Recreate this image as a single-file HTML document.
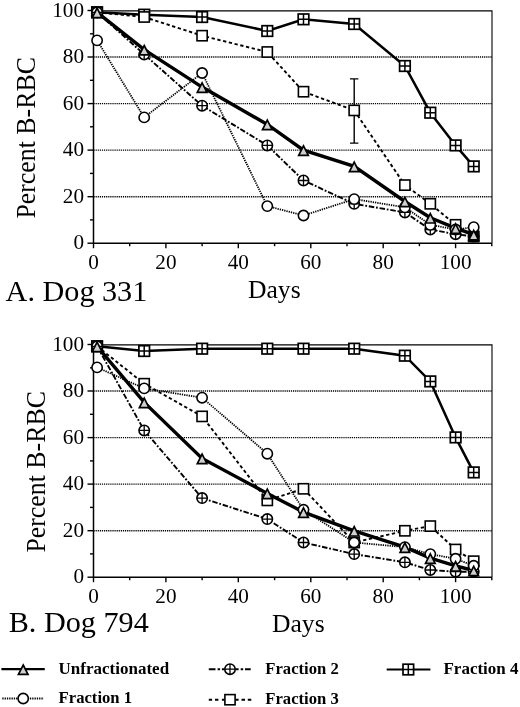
<!DOCTYPE html><html><head><meta charset="utf-8"><title>Figure</title><style>html,body{margin:0;padding:0;background:#fff}svg{display:block;will-change:transform}svg text{font-family:"Liberation Serif",serif}</style></head><body><svg width="520" height="707" viewBox="0 0 520 707" fill="#000"><rect width="520" height="707" fill="#fff"/><line x1="93.5" x2="492.0" y1="196.7" y2="196.7" stroke="#000" stroke-width="1.35" stroke-dasharray="1.2 0.9"/><line x1="93.5" x2="492.0" y1="150.1" y2="150.1" stroke="#000" stroke-width="1.35" stroke-dasharray="1.2 0.9"/><line x1="93.5" x2="492.0" y1="103.6" y2="103.6" stroke="#000" stroke-width="1.35" stroke-dasharray="1.2 0.9"/><line x1="93.5" x2="492.0" y1="57.0" y2="57.0" stroke="#000" stroke-width="1.35" stroke-dasharray="1.2 0.9"/><path d="M93.5 10.9H492.0V243.2" stroke="#000" stroke-width="1.1" fill="none"/><path d="M93.5 10.5V243.2H492.0" stroke="#000" stroke-width="1.5" fill="none"/><line x1="87.5" x2="93.5" y1="243.2" y2="243.2" stroke="#000" stroke-width="1.4"/><line x1="90.0" x2="93.5" y1="219.9" y2="219.9" stroke="#000" stroke-width="1.4"/><line x1="87.5" x2="93.5" y1="196.7" y2="196.7" stroke="#000" stroke-width="1.4"/><line x1="90.0" x2="93.5" y1="173.4" y2="173.4" stroke="#000" stroke-width="1.4"/><line x1="87.5" x2="93.5" y1="150.1" y2="150.1" stroke="#000" stroke-width="1.4"/><line x1="90.0" x2="93.5" y1="126.8" y2="126.8" stroke="#000" stroke-width="1.4"/><line x1="87.5" x2="93.5" y1="103.6" y2="103.6" stroke="#000" stroke-width="1.4"/><line x1="90.0" x2="93.5" y1="80.3" y2="80.3" stroke="#000" stroke-width="1.4"/><line x1="87.5" x2="93.5" y1="57.0" y2="57.0" stroke="#000" stroke-width="1.4"/><line x1="90.0" x2="93.5" y1="33.8" y2="33.8" stroke="#000" stroke-width="1.4"/><line x1="87.5" x2="93.5" y1="10.5" y2="10.5" stroke="#000" stroke-width="1.4"/><line x1="93.5" x2="93.5" y1="243.2" y2="248.2" stroke="#000" stroke-width="1.4"/><line x1="129.7" x2="129.7" y1="243.2" y2="246.2" stroke="#000" stroke-width="1.4"/><line x1="165.9" x2="165.9" y1="243.2" y2="248.2" stroke="#000" stroke-width="1.4"/><line x1="202.1" x2="202.1" y1="243.2" y2="246.2" stroke="#000" stroke-width="1.4"/><line x1="238.3" x2="238.3" y1="243.2" y2="248.2" stroke="#000" stroke-width="1.4"/><line x1="274.6" x2="274.6" y1="243.2" y2="246.2" stroke="#000" stroke-width="1.4"/><line x1="310.8" x2="310.8" y1="243.2" y2="248.2" stroke="#000" stroke-width="1.4"/><line x1="347.0" x2="347.0" y1="243.2" y2="246.2" stroke="#000" stroke-width="1.4"/><line x1="383.2" x2="383.2" y1="243.2" y2="248.2" stroke="#000" stroke-width="1.4"/><line x1="419.4" x2="419.4" y1="243.2" y2="246.2" stroke="#000" stroke-width="1.4"/><line x1="455.6" x2="455.6" y1="243.2" y2="248.2" stroke="#000" stroke-width="1.4"/><line x1="491.8" x2="491.8" y1="243.2" y2="246.2" stroke="#000" stroke-width="1.4"/><text x="84.0" y="249.4" text-anchor="end" font-size="21.2">0</text><text x="84.0" y="202.9" text-anchor="end" font-size="21.2">20</text><text x="84.0" y="156.3" text-anchor="end" font-size="21.2">40</text><text x="84.0" y="109.8" text-anchor="end" font-size="21.2">60</text><text x="84.0" y="63.2" text-anchor="end" font-size="21.2">80</text><text x="84.0" y="16.7" text-anchor="end" font-size="21.2">100</text><text x="93.5" y="269.2" text-anchor="middle" font-size="21.2">0</text><text x="165.9" y="269.2" text-anchor="middle" font-size="21.2">20</text><text x="238.3" y="269.2" text-anchor="middle" font-size="21.2">40</text><text x="310.8" y="269.2" text-anchor="middle" font-size="21.2">60</text><text x="383.2" y="269.2" text-anchor="middle" font-size="21.2">80</text><text x="455.6" y="269.2" text-anchor="middle" font-size="21.2">100</text><polyline points="97.1,40.4 144.2,117.4 202.1,73.0 267.3,206.1 303.5,215.5 354.2,199.1 404.9,207.3 430.3,224.8 455.6,229.5 473.7,227.2" fill="none" stroke="#000" stroke-width="1.8" stroke-dasharray="1.3 1"/><polyline points="97.1,12.3 144.2,54.4 202.1,105.7 267.3,145.4 303.5,180.5 354.2,203.8 404.9,212.4 430.3,229.5 455.6,234.2 473.7,236.5" fill="none" stroke="#000" stroke-width="1.9" stroke-dasharray="5.5 1.8 1.8 1.8"/><polyline points="97.1,12.3 144.2,17.0 202.1,35.7 267.3,52.0 303.5,91.7 354.2,110.4 404.9,185.1 430.3,203.8 455.6,224.8 473.7,236.5" fill="none" stroke="#000" stroke-width="1.9" stroke-dasharray="3.3 2.6"/><polyline points="97.1,12.3 144.2,14.7 202.1,17.0 267.3,31.0 303.5,19.3 354.2,24.0 404.9,66.0 430.3,112.7 455.6,145.4 473.7,166.4" fill="none" stroke="#000" stroke-width="2.5"/><polyline points="97.1,12.3 144.2,49.7 202.1,87.1 267.3,124.4 303.5,150.1 354.2,166.4 404.9,201.5 430.3,217.8 455.6,228.1 473.7,234.6" fill="none" stroke="#000" stroke-width="3.4"/><path d="M354.2 143.1V78.9M350.0 143.1h8.4M350.0 78.9h8.4" stroke="#000" stroke-width="1.4" fill="none"/><rect x="91.8" y="7.0" width="10.6" height="10.6" fill="#fff" stroke="#000" stroke-width="1.7"/><path d="M91.8 12.3H102.4M97.1 7.0V17.6" stroke="#000" stroke-width="1.5" fill="none"/><rect x="138.9" y="9.4" width="10.6" height="10.6" fill="#fff" stroke="#000" stroke-width="1.7"/><path d="M138.9 14.7H149.5M144.2 9.4V20.0" stroke="#000" stroke-width="1.5" fill="none"/><rect x="196.8" y="11.7" width="10.6" height="10.6" fill="#fff" stroke="#000" stroke-width="1.7"/><path d="M196.8 17.0H207.4M202.1 11.7V22.3" stroke="#000" stroke-width="1.5" fill="none"/><rect x="262.0" y="25.7" width="10.6" height="10.6" fill="#fff" stroke="#000" stroke-width="1.7"/><path d="M262.0 31.0H272.6M267.3 25.7V36.3" stroke="#000" stroke-width="1.5" fill="none"/><rect x="298.2" y="14.0" width="10.6" height="10.6" fill="#fff" stroke="#000" stroke-width="1.7"/><path d="M298.2 19.3H308.8M303.5 14.0V24.6" stroke="#000" stroke-width="1.5" fill="none"/><rect x="348.9" y="18.7" width="10.6" height="10.6" fill="#fff" stroke="#000" stroke-width="1.7"/><path d="M348.9 24.0H359.5M354.2 18.7V29.3" stroke="#000" stroke-width="1.5" fill="none"/><rect x="399.6" y="60.7" width="10.6" height="10.6" fill="#fff" stroke="#000" stroke-width="1.7"/><path d="M399.6 66.0H410.2M404.9 60.7V71.3" stroke="#000" stroke-width="1.5" fill="none"/><rect x="425.0" y="107.4" width="10.6" height="10.6" fill="#fff" stroke="#000" stroke-width="1.7"/><path d="M425.0 112.7H435.6M430.3 107.4V118.0" stroke="#000" stroke-width="1.5" fill="none"/><rect x="450.3" y="140.1" width="10.6" height="10.6" fill="#fff" stroke="#000" stroke-width="1.7"/><path d="M450.3 145.4H460.9M455.6 140.1V150.7" stroke="#000" stroke-width="1.5" fill="none"/><rect x="468.4" y="161.1" width="10.6" height="10.6" fill="#fff" stroke="#000" stroke-width="1.7"/><path d="M468.4 166.4H479.0M473.7 161.1V171.7" stroke="#000" stroke-width="1.5" fill="none"/><rect x="92.0" y="7.2" width="10.2" height="10.2" fill="#fff" stroke="#000" stroke-width="1.6"/><rect x="139.1" y="11.9" width="10.2" height="10.2" fill="#fff" stroke="#000" stroke-width="1.6"/><rect x="197.0" y="30.6" width="10.2" height="10.2" fill="#fff" stroke="#000" stroke-width="1.6"/><rect x="262.2" y="46.9" width="10.2" height="10.2" fill="#fff" stroke="#000" stroke-width="1.6"/><rect x="298.4" y="86.6" width="10.2" height="10.2" fill="#fff" stroke="#000" stroke-width="1.6"/><rect x="349.1" y="105.3" width="10.2" height="10.2" fill="#fff" stroke="#000" stroke-width="1.6"/><rect x="399.8" y="180.0" width="10.2" height="10.2" fill="#fff" stroke="#000" stroke-width="1.6"/><rect x="425.2" y="198.7" width="10.2" height="10.2" fill="#fff" stroke="#000" stroke-width="1.6"/><rect x="450.5" y="219.7" width="10.2" height="10.2" fill="#fff" stroke="#000" stroke-width="1.6"/><rect x="468.6" y="231.4" width="10.2" height="10.2" fill="#fff" stroke="#000" stroke-width="1.6"/><circle cx="97.1" cy="12.3" r="5.2" fill="#fff" stroke="#000" stroke-width="1.6"/><path d="M91.9 12.3H102.3M97.1 7.1V17.5" stroke="#000" stroke-width="1.3" fill="none"/><circle cx="144.2" cy="54.4" r="5.2" fill="#fff" stroke="#000" stroke-width="1.6"/><path d="M139.0 54.4H149.4M144.2 49.2V59.6" stroke="#000" stroke-width="1.3" fill="none"/><circle cx="202.1" cy="105.7" r="5.2" fill="#fff" stroke="#000" stroke-width="1.6"/><path d="M196.9 105.7H207.3M202.1 100.5V110.9" stroke="#000" stroke-width="1.3" fill="none"/><circle cx="267.3" cy="145.4" r="5.2" fill="#fff" stroke="#000" stroke-width="1.6"/><path d="M262.1 145.4H272.5M267.3 140.2V150.6" stroke="#000" stroke-width="1.3" fill="none"/><circle cx="303.5" cy="180.5" r="5.2" fill="#fff" stroke="#000" stroke-width="1.6"/><path d="M298.3 180.5H308.7M303.5 175.3V185.7" stroke="#000" stroke-width="1.3" fill="none"/><circle cx="354.2" cy="203.8" r="5.2" fill="#fff" stroke="#000" stroke-width="1.6"/><path d="M349.0 203.8H359.4M354.2 198.6V209.0" stroke="#000" stroke-width="1.3" fill="none"/><circle cx="404.9" cy="212.4" r="5.2" fill="#fff" stroke="#000" stroke-width="1.6"/><path d="M399.7 212.4H410.1M404.9 207.2V217.6" stroke="#000" stroke-width="1.3" fill="none"/><circle cx="430.3" cy="229.5" r="5.2" fill="#fff" stroke="#000" stroke-width="1.6"/><path d="M425.1 229.5H435.5M430.3 224.3V234.7" stroke="#000" stroke-width="1.3" fill="none"/><circle cx="455.6" cy="234.2" r="5.2" fill="#fff" stroke="#000" stroke-width="1.6"/><path d="M450.4 234.2H460.8M455.6 229.0V239.4" stroke="#000" stroke-width="1.3" fill="none"/><circle cx="473.7" cy="236.5" r="5.2" fill="#fff" stroke="#000" stroke-width="1.6"/><path d="M468.5 236.5H478.9M473.7 231.3V241.7" stroke="#000" stroke-width="1.3" fill="none"/><rect x="468.1" y="230.9" width="11.2" height="11.2" fill="#000"/><circle cx="97.1" cy="40.4" r="5.15" fill="#fff" stroke="#000" stroke-width="1.6"/><circle cx="144.2" cy="117.4" r="5.15" fill="#fff" stroke="#000" stroke-width="1.6"/><circle cx="202.1" cy="73.0" r="5.15" fill="#fff" stroke="#000" stroke-width="1.6"/><circle cx="267.3" cy="206.1" r="5.15" fill="#fff" stroke="#000" stroke-width="1.6"/><circle cx="303.5" cy="215.5" r="5.15" fill="#fff" stroke="#000" stroke-width="1.6"/><circle cx="354.2" cy="199.1" r="5.15" fill="#fff" stroke="#000" stroke-width="1.6"/><circle cx="404.9" cy="207.3" r="5.15" fill="#fff" stroke="#000" stroke-width="1.6"/><circle cx="430.3" cy="224.8" r="5.15" fill="#fff" stroke="#000" stroke-width="1.6"/><circle cx="455.6" cy="229.5" r="5.15" fill="#fff" stroke="#000" stroke-width="1.6"/><circle cx="473.7" cy="227.2" r="5.15" fill="#fff" stroke="#000" stroke-width="1.6"/><path d="M97.1 8.1L101.9 17.5H92.3Z" fill="#cfcfcf" stroke="#000" stroke-width="1.7" stroke-linejoin="miter"/><path d="M144.2 45.5L149.0 54.9H139.4Z" fill="#cfcfcf" stroke="#000" stroke-width="1.7" stroke-linejoin="miter"/><path d="M202.1 82.9L206.9 92.3H197.3Z" fill="#cfcfcf" stroke="#000" stroke-width="1.7" stroke-linejoin="miter"/><path d="M267.3 120.2L272.1 129.6H262.5Z" fill="#cfcfcf" stroke="#000" stroke-width="1.7" stroke-linejoin="miter"/><path d="M303.5 145.9L308.3 155.3H298.7Z" fill="#cfcfcf" stroke="#000" stroke-width="1.7" stroke-linejoin="miter"/><path d="M354.2 162.2L359.0 171.6H349.4Z" fill="#cfcfcf" stroke="#000" stroke-width="1.7" stroke-linejoin="miter"/><path d="M404.9 197.3L409.7 206.7H400.1Z" fill="#cfcfcf" stroke="#000" stroke-width="1.7" stroke-linejoin="miter"/><path d="M430.3 213.6L435.1 223.0H425.5Z" fill="#cfcfcf" stroke="#000" stroke-width="1.7" stroke-linejoin="miter"/><path d="M455.6 223.9L460.4 233.3H450.8Z" fill="#cfcfcf" stroke="#000" stroke-width="1.7" stroke-linejoin="miter"/><path d="M473.7 230.4L478.5 239.8H468.9Z" fill="#cfcfcf" stroke="#000" stroke-width="1.7" stroke-linejoin="miter"/><text transform="translate(34.6,218.6) rotate(-90)" textLength="161.5" lengthAdjust="spacingAndGlyphs" font-size="27">Percent B-RBC</text><line x1="93.5" x2="492.0" y1="530.7" y2="530.7" stroke="#000" stroke-width="1.35" stroke-dasharray="1.2 0.9"/><line x1="93.5" x2="492.0" y1="484.1" y2="484.1" stroke="#000" stroke-width="1.35" stroke-dasharray="1.2 0.9"/><line x1="93.5" x2="492.0" y1="437.6" y2="437.6" stroke="#000" stroke-width="1.35" stroke-dasharray="1.2 0.9"/><line x1="93.5" x2="492.0" y1="391.0" y2="391.0" stroke="#000" stroke-width="1.35" stroke-dasharray="1.2 0.9"/><path d="M93.5 344.9H492.0V577.2" stroke="#000" stroke-width="1.1" fill="none"/><path d="M93.5 344.5V577.2H492.0" stroke="#000" stroke-width="1.5" fill="none"/><line x1="87.5" x2="93.5" y1="577.2" y2="577.2" stroke="#000" stroke-width="1.4"/><line x1="90.0" x2="93.5" y1="553.9" y2="553.9" stroke="#000" stroke-width="1.4"/><line x1="87.5" x2="93.5" y1="530.7" y2="530.7" stroke="#000" stroke-width="1.4"/><line x1="90.0" x2="93.5" y1="507.4" y2="507.4" stroke="#000" stroke-width="1.4"/><line x1="87.5" x2="93.5" y1="484.1" y2="484.1" stroke="#000" stroke-width="1.4"/><line x1="90.0" x2="93.5" y1="460.9" y2="460.9" stroke="#000" stroke-width="1.4"/><line x1="87.5" x2="93.5" y1="437.6" y2="437.6" stroke="#000" stroke-width="1.4"/><line x1="90.0" x2="93.5" y1="414.3" y2="414.3" stroke="#000" stroke-width="1.4"/><line x1="87.5" x2="93.5" y1="391.0" y2="391.0" stroke="#000" stroke-width="1.4"/><line x1="90.0" x2="93.5" y1="367.8" y2="367.8" stroke="#000" stroke-width="1.4"/><line x1="87.5" x2="93.5" y1="344.5" y2="344.5" stroke="#000" stroke-width="1.4"/><line x1="93.5" x2="93.5" y1="577.2" y2="582.2" stroke="#000" stroke-width="1.4"/><line x1="129.7" x2="129.7" y1="577.2" y2="580.2" stroke="#000" stroke-width="1.4"/><line x1="165.9" x2="165.9" y1="577.2" y2="582.2" stroke="#000" stroke-width="1.4"/><line x1="202.1" x2="202.1" y1="577.2" y2="580.2" stroke="#000" stroke-width="1.4"/><line x1="238.3" x2="238.3" y1="577.2" y2="582.2" stroke="#000" stroke-width="1.4"/><line x1="274.6" x2="274.6" y1="577.2" y2="580.2" stroke="#000" stroke-width="1.4"/><line x1="310.8" x2="310.8" y1="577.2" y2="582.2" stroke="#000" stroke-width="1.4"/><line x1="347.0" x2="347.0" y1="577.2" y2="580.2" stroke="#000" stroke-width="1.4"/><line x1="383.2" x2="383.2" y1="577.2" y2="582.2" stroke="#000" stroke-width="1.4"/><line x1="419.4" x2="419.4" y1="577.2" y2="580.2" stroke="#000" stroke-width="1.4"/><line x1="455.6" x2="455.6" y1="577.2" y2="582.2" stroke="#000" stroke-width="1.4"/><line x1="491.8" x2="491.8" y1="577.2" y2="580.2" stroke="#000" stroke-width="1.4"/><text x="84.0" y="583.4" text-anchor="end" font-size="21.2">0</text><text x="84.0" y="536.9" text-anchor="end" font-size="21.2">20</text><text x="84.0" y="490.3" text-anchor="end" font-size="21.2">40</text><text x="84.0" y="443.8" text-anchor="end" font-size="21.2">60</text><text x="84.0" y="397.2" text-anchor="end" font-size="21.2">80</text><text x="84.0" y="350.7" text-anchor="end" font-size="21.2">100</text><text x="93.5" y="603.2" text-anchor="middle" font-size="21.2">0</text><text x="165.9" y="603.2" text-anchor="middle" font-size="21.2">20</text><text x="238.3" y="603.2" text-anchor="middle" font-size="21.2">40</text><text x="310.8" y="603.2" text-anchor="middle" font-size="21.2">60</text><text x="383.2" y="603.2" text-anchor="middle" font-size="21.2">80</text><text x="455.6" y="603.2" text-anchor="middle" font-size="21.2">100</text><polyline points="97.1,367.4 144.2,388.4 202.1,397.7 267.3,453.7 303.5,509.8 354.2,542.5 404.9,547.1 430.3,554.1 455.6,558.8 473.7,565.8" fill="none" stroke="#000" stroke-width="1.8" stroke-dasharray="1.3 1"/><polyline points="97.1,346.3 144.2,430.4 202.1,498.1 267.3,519.1 303.5,542.5 354.2,554.1 404.9,562.3 430.3,570.0 455.6,571.7 473.7,571.7" fill="none" stroke="#000" stroke-width="1.9" stroke-dasharray="5.5 1.8 1.8 1.8"/><polyline points="97.1,346.3 144.2,383.7 202.1,416.4 267.3,500.4 303.5,488.8 354.2,542.5 404.9,530.8 430.3,526.1 455.6,549.5 473.7,561.2" fill="none" stroke="#000" stroke-width="1.9" stroke-dasharray="3.3 2.6"/><polyline points="97.1,346.3 144.2,351.0 202.1,348.7 267.3,348.7 303.5,348.7 354.2,348.7 404.9,355.7 430.3,381.4 455.6,437.4 473.7,472.4" fill="none" stroke="#000" stroke-width="2.5"/><polyline points="97.1,346.3 144.2,402.4 202.1,458.4 267.3,493.4 303.5,512.1 354.2,530.8 404.9,547.1 430.3,558.1 455.6,565.8 473.7,570.5" fill="none" stroke="#000" stroke-width="3.4"/><rect x="91.8" y="341.0" width="10.6" height="10.6" fill="#fff" stroke="#000" stroke-width="1.7"/><path d="M91.8 346.3H102.4M97.1 341.0V351.6" stroke="#000" stroke-width="1.5" fill="none"/><rect x="138.9" y="345.7" width="10.6" height="10.6" fill="#fff" stroke="#000" stroke-width="1.7"/><path d="M138.9 351.0H149.5M144.2 345.7V356.3" stroke="#000" stroke-width="1.5" fill="none"/><rect x="196.8" y="343.4" width="10.6" height="10.6" fill="#fff" stroke="#000" stroke-width="1.7"/><path d="M196.8 348.7H207.4M202.1 343.4V354.0" stroke="#000" stroke-width="1.5" fill="none"/><rect x="262.0" y="343.4" width="10.6" height="10.6" fill="#fff" stroke="#000" stroke-width="1.7"/><path d="M262.0 348.7H272.6M267.3 343.4V354.0" stroke="#000" stroke-width="1.5" fill="none"/><rect x="298.2" y="343.4" width="10.6" height="10.6" fill="#fff" stroke="#000" stroke-width="1.7"/><path d="M298.2 348.7H308.8M303.5 343.4V354.0" stroke="#000" stroke-width="1.5" fill="none"/><rect x="348.9" y="343.4" width="10.6" height="10.6" fill="#fff" stroke="#000" stroke-width="1.7"/><path d="M348.9 348.7H359.5M354.2 343.4V354.0" stroke="#000" stroke-width="1.5" fill="none"/><rect x="399.6" y="350.4" width="10.6" height="10.6" fill="#fff" stroke="#000" stroke-width="1.7"/><path d="M399.6 355.7H410.2M404.9 350.4V361.0" stroke="#000" stroke-width="1.5" fill="none"/><rect x="425.0" y="376.1" width="10.6" height="10.6" fill="#fff" stroke="#000" stroke-width="1.7"/><path d="M425.0 381.4H435.6M430.3 376.1V386.7" stroke="#000" stroke-width="1.5" fill="none"/><rect x="450.3" y="432.1" width="10.6" height="10.6" fill="#fff" stroke="#000" stroke-width="1.7"/><path d="M450.3 437.4H460.9M455.6 432.1V442.7" stroke="#000" stroke-width="1.5" fill="none"/><rect x="468.4" y="467.1" width="10.6" height="10.6" fill="#fff" stroke="#000" stroke-width="1.7"/><path d="M468.4 472.4H479.0M473.7 467.1V477.7" stroke="#000" stroke-width="1.5" fill="none"/><rect x="92.0" y="341.2" width="10.2" height="10.2" fill="#fff" stroke="#000" stroke-width="1.6"/><rect x="139.1" y="378.6" width="10.2" height="10.2" fill="#fff" stroke="#000" stroke-width="1.6"/><rect x="197.0" y="411.3" width="10.2" height="10.2" fill="#fff" stroke="#000" stroke-width="1.6"/><rect x="262.2" y="495.3" width="10.2" height="10.2" fill="#fff" stroke="#000" stroke-width="1.6"/><rect x="298.4" y="483.7" width="10.2" height="10.2" fill="#fff" stroke="#000" stroke-width="1.6"/><rect x="349.1" y="537.4" width="10.2" height="10.2" fill="#fff" stroke="#000" stroke-width="1.6"/><rect x="399.8" y="525.7" width="10.2" height="10.2" fill="#fff" stroke="#000" stroke-width="1.6"/><rect x="425.2" y="521.0" width="10.2" height="10.2" fill="#fff" stroke="#000" stroke-width="1.6"/><rect x="450.5" y="544.4" width="10.2" height="10.2" fill="#fff" stroke="#000" stroke-width="1.6"/><rect x="468.6" y="556.1" width="10.2" height="10.2" fill="#fff" stroke="#000" stroke-width="1.6"/><circle cx="97.1" cy="346.3" r="5.2" fill="#fff" stroke="#000" stroke-width="1.6"/><path d="M91.9 346.3H102.3M97.1 341.1V351.5" stroke="#000" stroke-width="1.3" fill="none"/><circle cx="144.2" cy="430.4" r="5.2" fill="#fff" stroke="#000" stroke-width="1.6"/><path d="M139.0 430.4H149.4M144.2 425.2V435.6" stroke="#000" stroke-width="1.3" fill="none"/><circle cx="202.1" cy="498.1" r="5.2" fill="#fff" stroke="#000" stroke-width="1.6"/><path d="M196.9 498.1H207.3M202.1 492.9V503.3" stroke="#000" stroke-width="1.3" fill="none"/><circle cx="267.3" cy="519.1" r="5.2" fill="#fff" stroke="#000" stroke-width="1.6"/><path d="M262.1 519.1H272.5M267.3 513.9V524.3" stroke="#000" stroke-width="1.3" fill="none"/><circle cx="303.5" cy="542.5" r="5.2" fill="#fff" stroke="#000" stroke-width="1.6"/><path d="M298.3 542.5H308.7M303.5 537.3V547.7" stroke="#000" stroke-width="1.3" fill="none"/><circle cx="354.2" cy="554.1" r="5.2" fill="#fff" stroke="#000" stroke-width="1.6"/><path d="M349.0 554.1H359.4M354.2 548.9V559.4" stroke="#000" stroke-width="1.3" fill="none"/><circle cx="404.9" cy="562.3" r="5.2" fill="#fff" stroke="#000" stroke-width="1.6"/><path d="M399.7 562.3H410.1M404.9 557.1V567.5" stroke="#000" stroke-width="1.3" fill="none"/><circle cx="430.3" cy="570.0" r="5.2" fill="#fff" stroke="#000" stroke-width="1.6"/><path d="M425.1 570.0H435.5M430.3 564.8V575.2" stroke="#000" stroke-width="1.3" fill="none"/><circle cx="455.6" cy="571.7" r="5.2" fill="#fff" stroke="#000" stroke-width="1.6"/><path d="M450.4 571.7H460.8M455.6 566.5V576.9" stroke="#000" stroke-width="1.3" fill="none"/><circle cx="473.7" cy="571.7" r="5.2" fill="#fff" stroke="#000" stroke-width="1.6"/><path d="M468.5 571.7H478.9M473.7 566.5V576.9" stroke="#000" stroke-width="1.3" fill="none"/><circle cx="97.1" cy="367.4" r="5.15" fill="#fff" stroke="#000" stroke-width="1.6"/><circle cx="144.2" cy="388.4" r="5.15" fill="#fff" stroke="#000" stroke-width="1.6"/><circle cx="202.1" cy="397.7" r="5.15" fill="#fff" stroke="#000" stroke-width="1.6"/><circle cx="267.3" cy="453.7" r="5.15" fill="#fff" stroke="#000" stroke-width="1.6"/><circle cx="303.5" cy="509.8" r="5.15" fill="#fff" stroke="#000" stroke-width="1.6"/><circle cx="354.2" cy="542.5" r="5.15" fill="#fff" stroke="#000" stroke-width="1.6"/><circle cx="404.9" cy="547.1" r="5.15" fill="#fff" stroke="#000" stroke-width="1.6"/><circle cx="430.3" cy="554.1" r="5.15" fill="#fff" stroke="#000" stroke-width="1.6"/><circle cx="455.6" cy="558.8" r="5.15" fill="#fff" stroke="#000" stroke-width="1.6"/><circle cx="473.7" cy="565.8" r="5.15" fill="#fff" stroke="#000" stroke-width="1.6"/><path d="M97.1 342.1L101.9 351.5H92.3Z" fill="#cfcfcf" stroke="#000" stroke-width="1.7" stroke-linejoin="miter"/><path d="M144.2 398.2L149.0 407.6H139.4Z" fill="#cfcfcf" stroke="#000" stroke-width="1.7" stroke-linejoin="miter"/><path d="M202.1 454.2L206.9 463.6H197.3Z" fill="#cfcfcf" stroke="#000" stroke-width="1.7" stroke-linejoin="miter"/><path d="M267.3 489.2L272.1 498.6H262.5Z" fill="#cfcfcf" stroke="#000" stroke-width="1.7" stroke-linejoin="miter"/><path d="M303.5 507.9L308.3 517.3H298.7Z" fill="#cfcfcf" stroke="#000" stroke-width="1.7" stroke-linejoin="miter"/><path d="M354.2 526.6L359.0 536.0H349.4Z" fill="#cfcfcf" stroke="#000" stroke-width="1.7" stroke-linejoin="miter"/><path d="M404.9 542.9L409.7 552.3H400.1Z" fill="#cfcfcf" stroke="#000" stroke-width="1.7" stroke-linejoin="miter"/><path d="M430.3 553.9L435.1 563.3H425.5Z" fill="#cfcfcf" stroke="#000" stroke-width="1.7" stroke-linejoin="miter"/><path d="M455.6 561.6L460.4 571.0H450.8Z" fill="#cfcfcf" stroke="#000" stroke-width="1.7" stroke-linejoin="miter"/><path d="M473.7 566.3L478.5 575.7H468.9Z" fill="#cfcfcf" stroke="#000" stroke-width="1.7" stroke-linejoin="miter"/><text transform="translate(45,552.6) rotate(-90)" textLength="161.5" lengthAdjust="spacingAndGlyphs" font-size="27">Percent B-RBC</text><text x="5.6" y="300.8" font-size="30.2">A. Dog 331</text><text x="8.7" y="632.2" font-size="30.2">B. Dog 794</text><text x="248" y="297.5" font-size="25.6">Days</text><text x="272" y="632" font-size="25.6">Days</text><line x1="1.4" x2="44.8" y1="669.2" y2="669.2" stroke="#000" stroke-width="2.2"/><path d="M23.2 665.0L28.0 674.4H18.4Z" fill="#cfcfcf" stroke="#000" stroke-width="1.7" stroke-linejoin="miter"/><text x="58.6" y="674.3" font-size="16.8" font-weight="bold" textLength="110.5" lengthAdjust="spacingAndGlyphs">Unfractionated</text><line x1="2.3" x2="43.8" y1="698.5" y2="698.5" stroke="#000" stroke-width="1.8" stroke-dasharray="1.3 1"/><circle cx="23.2" cy="698.5" r="5.15" fill="#fff" stroke="#000" stroke-width="1.6"/><text x="58.6" y="702.7" font-size="16.8" font-weight="bold" textLength="73.5" lengthAdjust="spacingAndGlyphs">Fraction 1</text><path d="M208.8 669.2H215.5M217.6 669.2H220.1M221.9 669.2H224.5M235.7 669.2H238.6M240.7 669.2H243.2M245 669.2H250.7" stroke="#000" stroke-width="1.9" fill="none"/><circle cx="230.0" cy="669.2" r="5.2" fill="#fff" stroke="#000" stroke-width="1.6"/><path d="M224.8 669.2H235.2M230.0 664.0V674.4" stroke="#000" stroke-width="1.3" fill="none"/><text x="265.3" y="674.3" font-size="16.8" font-weight="bold" textLength="73.5" lengthAdjust="spacingAndGlyphs">Fraction 2</text><path d="M208.8 699.7H212.1M215 699.7H218.4M221.9 699.7H224.5M235.7 699.7H238.6M241.5 699.7H245M247.8 699.7H251.3" stroke="#000" stroke-width="1.9" fill="none"/><rect x="224.9" y="694.6" width="10.2" height="10.2" fill="#fff" stroke="#000" stroke-width="1.6"/><text x="265.3" y="703.6" font-size="16.8" font-weight="bold" textLength="73.5" lengthAdjust="spacingAndGlyphs">Fraction 3</text><line x1="386.7" x2="430.4" y1="669.5" y2="669.5" stroke="#000" stroke-width="1.8"/><rect x="403.0" y="664.2" width="10.6" height="10.6" fill="#fff" stroke="#000" stroke-width="1.7"/><path d="M403.0 669.5H413.6M408.3 664.2V674.8" stroke="#000" stroke-width="1.5" fill="none"/><text x="443.5" y="674.3" font-size="16.8" font-weight="bold" textLength="75" lengthAdjust="spacingAndGlyphs">Fraction 4</text></svg></body></html>
